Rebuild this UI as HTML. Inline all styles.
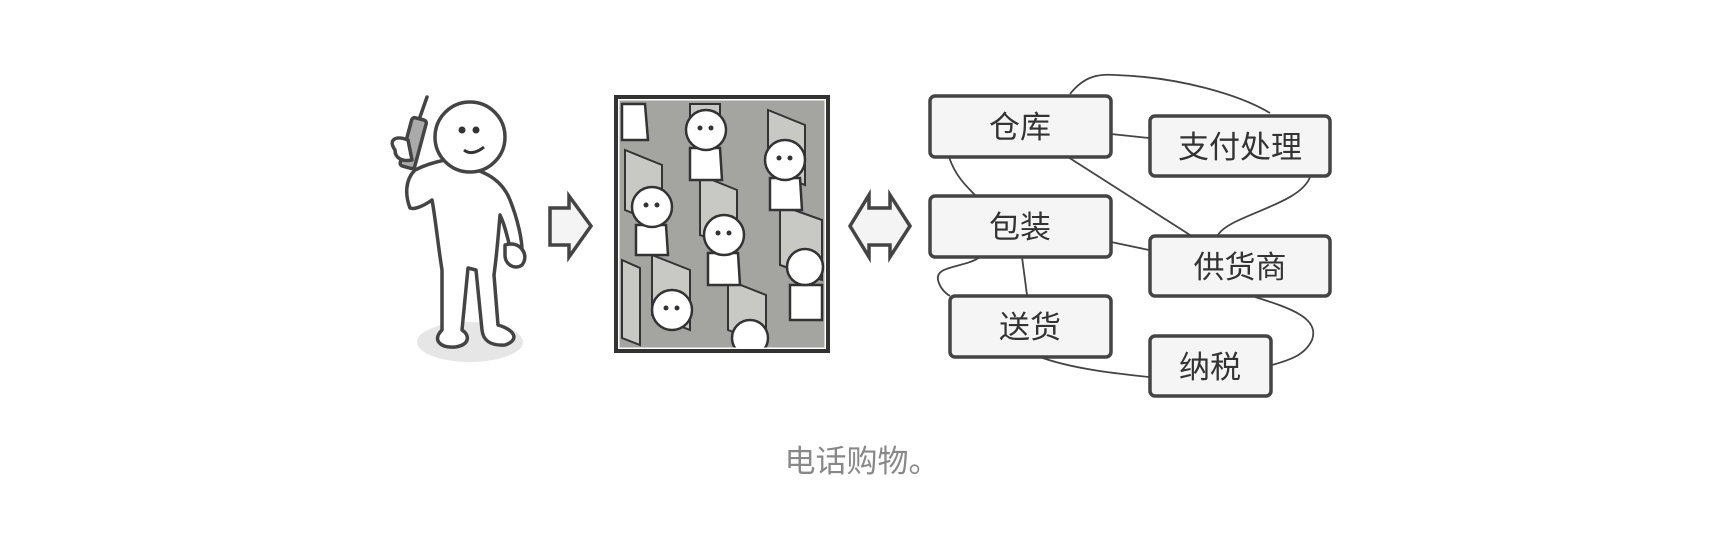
<!DOCTYPE html>
<html><head><meta charset="utf-8"><style>
html,body{margin:0;padding:0;background:#fff;}
body{width:1734px;height:534px;overflow:hidden;}
text{font-family:"Liberation Sans","Noto Sans CJK SC",sans-serif;}
</style></head><body>
<svg width="1734" height="534" viewBox="0 0 1734 534" xmlns="http://www.w3.org/2000/svg">
<defs><clipPath id="cp"><rect x="618" y="99" width="208" height="250"/></clipPath></defs>
<!-- person -->
<ellipse cx="470" cy="342" rx="53" ry="20" fill="#e6e6e6"/>
<g fill="#fff" stroke="#444" stroke-width="3.5" stroke-linejoin="round" stroke-linecap="round">
<path d="M445 160 C480 170 500 175 510 200 C518 220 522 240 522 250 L512 255 C508 240 505 225 500 215 C498 240 496 260 494 275 L498 325 C515 330 520 340 505 345 C490 346 483 340 482 330 L476 270 L468 268 L462 330 C470 335 470 345 455 347 C440 348 432 340 442 330 L442 270 C438 245 435 215 432 200 C425 205 415 210 410 208 C405 195 405 180 415 170 C425 165 435 162 445 160 Z"/>
<circle cx="470" cy="137" r="35"/>
<path d="M505 245 C520 240 530 255 522 265 C515 270 505 265 505 255 Z"/>
<rect x="406" y="118" width="15" height="50" rx="3" fill="#aaa" transform="rotate(15 413 142)"/>
<path d="M420 117 L427 97" fill="none"/>
<path d="M395 150 C388 140 395 135 408 140 L412 160 C402 162 395 158 395 150 Z"/>
</g>
<circle cx="462" cy="130" r="3.5" fill="#333"/><circle cx="476" cy="130" r="3.5" fill="#333"/>
<path d="M464 150 C470 155 478 152 484 147" fill="none" stroke="#333" stroke-width="3"/>
<!-- arrow right -->
<path d="M550 208 L569 208 L569 196 L591 226 L569 257 L569 245 L550 245 Z" fill="#f4f4f4" stroke="#444" stroke-width="3.5"/>
<!-- picture -->
<g clip-path="url(#cp)">
<rect x="618" y="99" width="208" height="250" fill="#a4a4a0"/>
<g fill="#c8c8c4" stroke="#333" stroke-width="2">
<path d="M625 150 L662 165 L662 225 L625 210Z"/><path d="M700 175 L737 190 L737 250 L700 235Z"/>
<path d="M768 110 L805 125 L805 185 L768 170Z"/><path d="M652 255 L690 270 L690 330 L652 315Z"/>
<path d="M728 280 L766 295 L766 345 L728 330Z"/><path d="M780 205 L822 220 L822 280 L780 265Z"/>
<path d="M622 260 L640 268 L640 345 L622 338Z"/><path d="M690 104 L720 104 L720 120 L690 120Z"/>
</g>
<g fill="#fff" stroke="#333" stroke-width="2.5">
<path d="M690 148 L720 148 L722 180 L690 180Z"/><path d="M770 178 L800 178 L802 210 L770 210Z"/>
<path d="M636 225 L666 225 L668 255 L636 255Z"/><path d="M708 253 L738 253 L740 285 L708 285Z"/>
<path d="M790 285 L822 285 L822 320 L790 320Z"/><path d="M622 104 L645 104 L648 140 L622 140Z"/>
<circle cx="706" cy="130" r="20"/><circle cx="785" cy="160" r="20"/><circle cx="652" cy="207" r="20"/>
<circle cx="724" cy="235" r="20"/><circle cx="805" cy="267" r="18"/><circle cx="672" cy="310" r="20"/><circle cx="750" cy="338" r="18"/>
</g>
<g fill="#333"><circle cx="700" cy="128" r="2.5"/><circle cx="711" cy="128" r="2.5"/><circle cx="779" cy="158" r="2.5"/><circle cx="790" cy="158" r="2.5"/><circle cx="646" cy="205" r="2.5"/><circle cx="657" cy="205" r="2.5"/><circle cx="718" cy="233" r="2.5"/><circle cx="729" cy="233" r="2.5"/><circle cx="666" cy="308" r="2.5"/><circle cx="677" cy="308" r="2.5"/></g>
</g>
<rect x="618" y="99" width="208" height="250" fill="none" stroke="#fff" stroke-width="3" />
<rect x="616" y="97" width="212" height="254" fill="none" stroke="#333" stroke-width="4"/>
<!-- double arrow -->
<path d="M850 226 L869 195 L869 208 L890 208 L890 195 L910 226 L890 257 L890 245 L869 245 L869 257 Z" fill="#f4f4f4" stroke="#444" stroke-width="3.5"/>
<!-- connectors -->
<g fill="none" stroke="#444" stroke-width="1.8">
<path d="M1070 94 C1085 75 1100 74 1115 75 C1180 77 1240 95 1270 113"/>
<path d="M1111 134 L1149 138"/>
<path d="M1068 157 L1190 235"/>
<path d="M1310 177 C1300 205 1230 215 1218 235"/>
<path d="M949 157 C955 175 965 185 975 195"/>
<path d="M1111 242 L1149 250"/>
<path d="M1022 257 L1027 295"/>
<path d="M980 257 C965 268 935 265 938 280 C940 288 945 293 950 296"/>
<path d="M1255 297 C1290 308 1320 318 1312 340 C1305 355 1290 360 1272 365"/>
<path d="M1040 357 C1070 368 1110 373 1149 377"/>
</g>
<!-- boxes -->
<g fill="#f5f5f5" stroke="#444" stroke-width="3.5">
<rect x="930" y="96" width="181" height="61" rx="5"/>
<rect x="1150" y="116" width="180" height="60" rx="5"/>
<rect x="930" y="196" width="181" height="61" rx="5"/>
<rect x="1150" y="236" width="180" height="60" rx="5"/>
<rect x="950" y="296" width="161" height="61" rx="5"/>
<rect x="1150" y="336" width="121" height="60" rx="5"/>
</g>
<g font-size="31" fill="#333" text-anchor="middle">
<text x="1020" y="138">仓库</text>
<text x="1240" y="158">支付处理</text>
<text x="1020" y="238">包装</text>
<text x="1240" y="278">供货商</text>
<text x="1030" y="338">送货</text>
<text x="1210" y="378">纳税</text>
</g>
<text x="862" y="472" font-size="31" fill="#888" text-anchor="middle">电话购物。</text>
</svg>
</body></html>
